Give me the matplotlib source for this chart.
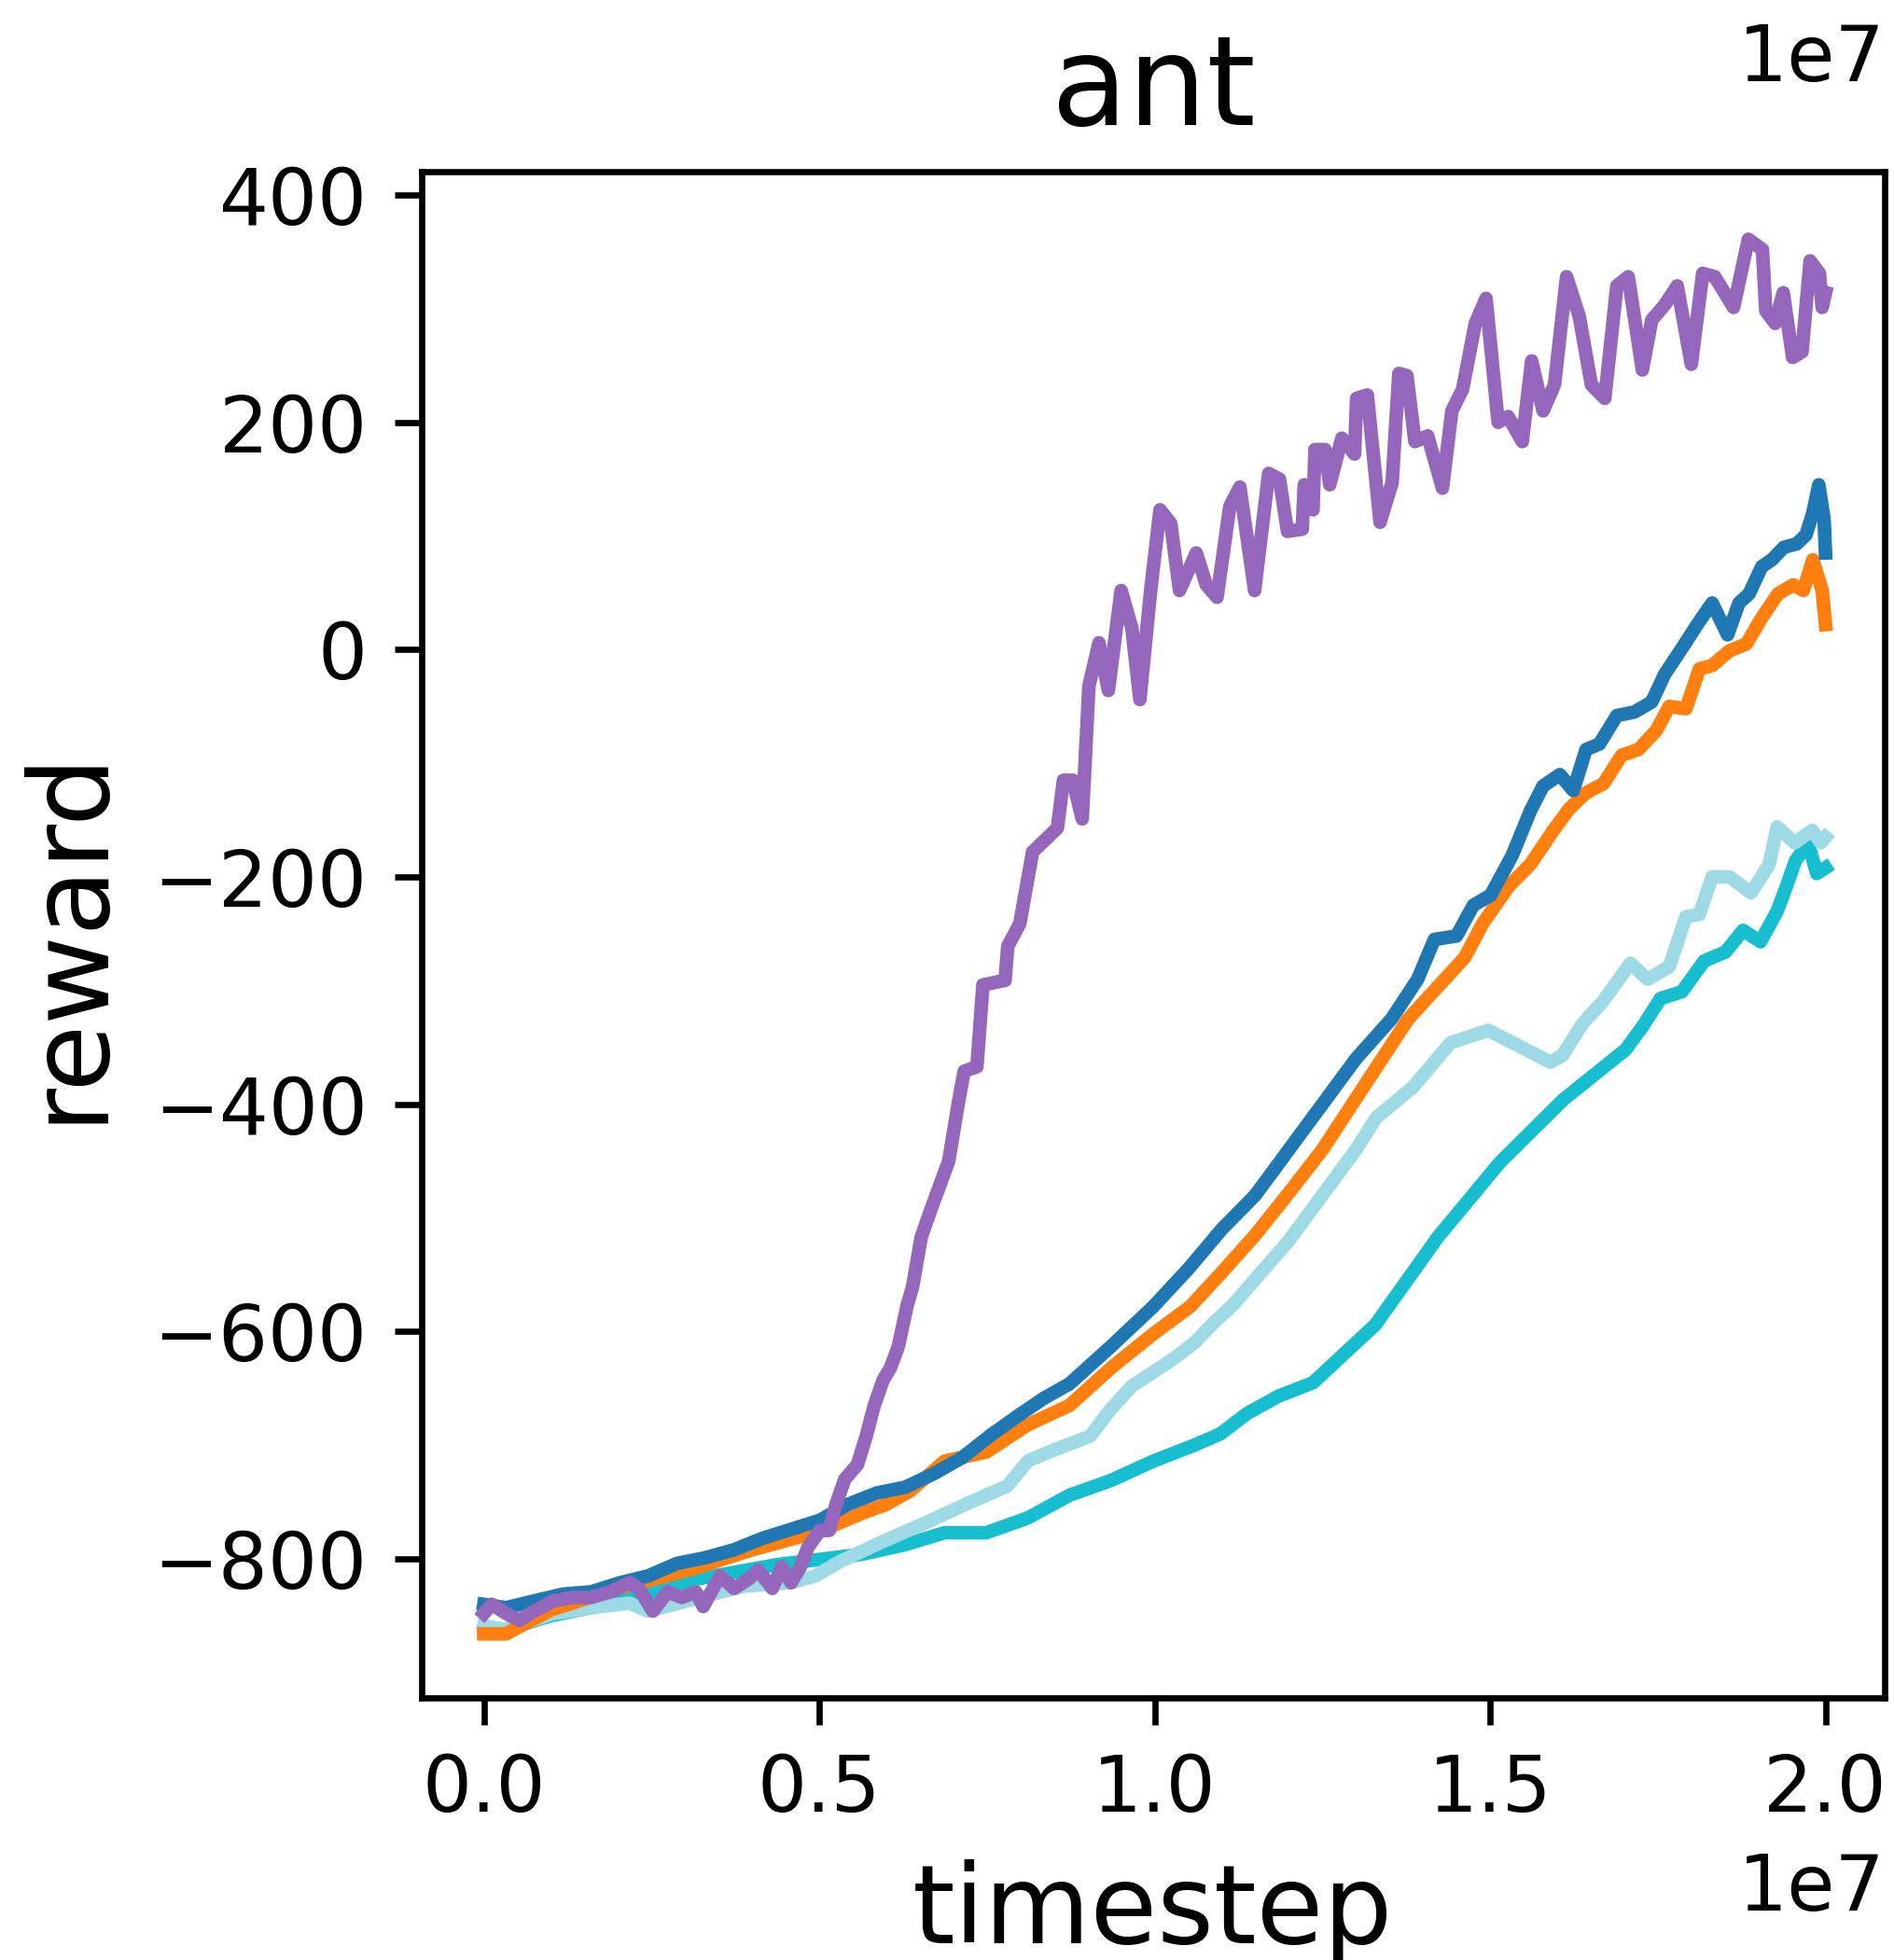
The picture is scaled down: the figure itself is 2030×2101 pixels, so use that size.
import matplotlib
matplotlib.use("Agg")
import matplotlib.pyplot as plt
import numpy as np

# ---- data (x in units of 1e7 timesteps) ----
purple_x = [0.0, 0.012, 0.033, 0.053, 0.075, 0.104, 0.132, 0.160, 0.189, 0.217,
            0.231, 0.252, 0.274, 0.295, 0.316, 0.327, 0.352, 0.373, 0.394, 0.409,
            0.430, 0.444, 0.458, 0.472, 0.483, 0.501, 0.515, 0.525, 0.538, 0.557,
            0.570, 0.582, 0.595, 0.606, 0.618, 0.631, 0.639, 0.652, 0.665, 0.693,
            0.707, 0.716, 0.735, 0.744, 0.777, 0.781, 0.799, 0.818, 0.841, 0.855,
            0.864, 0.878, 0.892, 0.902, 0.917, 0.931, 0.950, 0.966, 0.978, 0.994,
            1.008, 1.024, 1.037, 1.062, 1.077, 1.093, 1.112, 1.127, 1.149, 1.170,
            1.186, 1.198, 1.220, 1.223, 1.236, 1.239, 1.254, 1.261, 1.279, 1.298,
            1.301, 1.317, 1.336, 1.354, 1.364, 1.376, 1.388, 1.407, 1.429, 1.443,
            1.459, 1.478, 1.494, 1.512, 1.527, 1.548, 1.562, 1.579, 1.596, 1.614,
            1.633, 1.651, 1.671, 1.689, 1.706, 1.727, 1.741, 1.760, 1.779, 1.800,
            1.817, 1.835, 1.863, 1.885, 1.906, 1.911, 1.925, 1.937, 1.951, 1.965,
            1.977, 1.991, 1.995, 2.0]
purple_y = [-848, -840, -848, -854, -846, -837, -834, -834, -829, -821,
            -826, -846, -829, -834, -829, -842, -815, -826, -818, -810,
            -826, -807, -821, -807, -790, -775, -775, -752, -730, -717,
            -692, -665, -643, -632, -613, -577, -561, -517, -495, -450,
            -400, -371, -367, -295, -291, -261, -241, -178, -165, -157,
            -115, -115, -149, -32, 6, -36, 52, 19, -44, 52,
            123, 111, 52, 85, 57, 46, 126, 143, 52, 155,
            150, 104, 106, 145, 123, 176, 176, 145, 186, 172,
            221, 224, 112, 147, 243, 241, 183, 188, 142, 210,
            229, 287, 309, 200, 205, 183, 254, 210, 233, 328,
            293, 233, 221, 320, 328, 246, 290, 303, 320, 251,
            331, 328, 301, 361, 352, 298, 287, 314, 257, 262,
            342, 331, 301, 314]

blue_x = [0.0, 0.033, 0.075, 0.118, 0.160, 0.203, 0.245, 0.288, 0.330, 0.373,
          0.415, 0.458, 0.501, 0.543, 0.586, 0.628, 0.671, 0.713, 0.756, 0.799,
          0.834, 0.873, 0.935, 0.998, 1.05, 1.10, 1.15, 1.20, 1.25, 1.30,
          1.353, 1.392, 1.417, 1.450, 1.475, 1.501, 1.533, 1.560, 1.579, 1.604,
          1.624, 1.643, 1.663, 1.689, 1.715, 1.741, 1.760, 1.788, 1.811, 1.831,
          1.854, 1.871, 1.886, 1.905, 1.920, 1.938, 1.957, 1.971, 1.981, 1.990,
          1.998, 2.0]
blue_y = [-840, -843, -837, -831, -829, -821, -815, -804, -799, -792,
          -782, -774, -766, -752, -742, -737, -725, -711, -691, -673,
          -659, -646, -613, -578, -545, -510, -480, -440, -400, -360,
          -325, -290, -255, -252, -225, -216, -181, -142, -120, -110,
          -124, -88, -83, -58, -55, -46, -22, 3, 24, 41,
          13, 41, 49, 73, 79, 90, 93, 101, 120, 145,
          114, 85]

orange_x = [0.0, 0.033, 0.10, 0.20, 0.316, 0.40, 0.50, 0.563, 0.600, 0.636,
            0.687, 0.749, 0.811, 0.873, 0.935, 0.998, 1.053, 1.10, 1.15, 1.20,
            1.25, 1.30, 1.378, 1.423, 1.462, 1.489, 1.528, 1.560, 1.592, 1.618,
            1.643, 1.669, 1.696, 1.721, 1.748, 1.767, 1.792, 1.812, 1.831, 1.857,
            1.882, 1.905, 1.929, 1.952, 1.967, 1.981, 1.995, 2.0]
orange_y = [-866, -866, -845, -826, -808, -792, -776, -760, -752, -740,
            -714, -706, -682, -665, -632, -602, -578, -548, -515, -478,
            -440, -395, -325, -296, -271, -241, -208, -189, -161, -140,
            -126, -118, -93, -88, -71, -50, -52, -17, -14, -1,
            5, 28, 49, 57, 52, 79, 52, 22]

cyan_x = [0.0, 0.033, 0.10, 0.20, 0.315, 0.438, 0.563, 0.625, 0.687, 0.749,
          0.811, 0.873, 0.935, 0.998, 1.059, 1.098, 1.138, 1.184, 1.236, 1.329,
          1.422, 1.515, 1.609, 1.702, 1.728, 1.754, 1.786, 1.819, 1.851, 1.877,
          1.903, 1.928, 1.942, 1.955, 1.974, 1.987, 2.0]
cyan_y = [-864, -862, -850, -838, -818, -805, -796, -788, -777, -777,
          -764, -744, -731, -714, -700, -690, -672, -657, -645, -594,
          -517, -451, -396, -352, -331, -307, -301, -274, -266, -247,
          -257, -230, -208, -186, -170, -197, -192]

lightcyan_x = [0.0, 0.033, 0.104, 0.174, 0.217, 0.245, 0.316, 0.387, 0.458, 0.494,
               0.532, 0.594, 0.656, 0.718, 0.780, 0.811, 0.842, 0.904, 0.935, 0.966,
               1.028, 1.059, 1.090, 1.116, 1.20, 1.25, 1.30, 1.33, 1.385, 1.441,
               1.497, 1.534, 1.59, 1.608, 1.638, 1.669, 1.709, 1.735, 1.767, 1.792,
               1.812, 1.831, 1.857, 1.889, 1.916, 1.928, 1.954, 1.980, 1.993, 2.0]
lightcyan_y = [-859, -862, -848, -842, -839, -846, -835, -824, -821, -815,
               -802, -785, -769, -752, -736, -714, -706, -692, -668, -648,
               -624, -610, -591, -577, -520, -480, -440, -412, -385, -346,
               -335, -346, -363, -357, -329, -309, -276, -290, -279, -235,
               -233, -200, -200, -214, -189, -156, -170, -159, -170, -165]

x_scale = 1e7

# ---- figure ----
W, H, DPI = 2030, 2101, 600
fig = plt.figure(figsize=(W / DPI, H / DPI), dpi=DPI)
ax = fig.add_axes([452 / W, 1 - 1820 / H, (2020 - 452) / W, (1820 - 184) / H])

lw = 1.75
series = [
    (cyan_x, cyan_y, "#17becf"),
    (lightcyan_x, lightcyan_y, "#9edae5"),
    (orange_x, orange_y, "#ff7f0e"),
    (blue_x, blue_y, "#1f77b4"),
    (purple_x, purple_y, "#9467bd"),
]
for xs, ys, c in series:
    ax.plot(np.array(xs) * x_scale, ys, color=c, lw=lw)

ax.set_xlim(-0.0926e7, 2.0882e7)
ax.set_ylim(-922.3, 420.5)
ax.set_xticks([0, 0.5e7, 1.0e7, 1.5e7, 2.0e7])
ax.set_yticks([-800, -600, -400, -200, 0, 200, 400])
ax.tick_params(labelsize=10)
ax.xaxis.get_offset_text().set_fontsize(10)

ax.set_xlabel("timestep", fontsize=14)
ax.set_ylabel("reward", fontsize=14)
ax.set_title("ant", fontsize=16)

fig.text(2020 / W, 1 - 87 / H, "1e7", ha="right", va="baseline", fontsize=10)

fig.savefig("out.png", dpi=DPI)
